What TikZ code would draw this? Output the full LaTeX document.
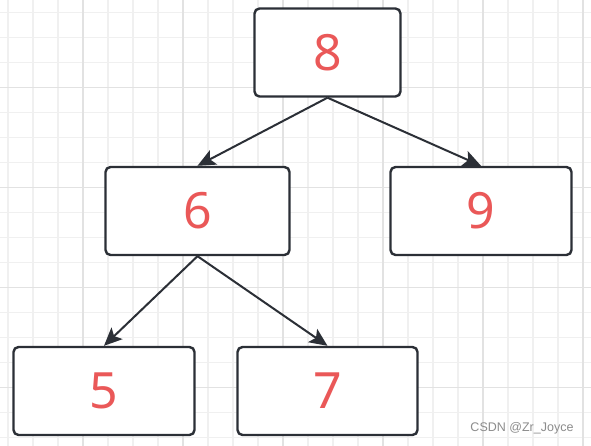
\documentclass[tikz,border=0pt]{standalone}
\usepackage{fontspec}
\setmainfont{Noto Sans}
\newfontfamily\markfont{Liberation Sans}
\usepackage{tikz}
\usetikzlibrary{arrows.meta,positioning}
\definecolor{boxline}{RGB}{43, 47, 54}
\definecolor{keyred}{RGB}{234, 88, 88}
\definecolor{gridminor}{RGB}{240, 240, 240}
\definecolor{gridmajor}{RGB}{226, 226, 226}
\definecolor{markgray}{RGB}{140, 140, 140}

\begin{document}
\begin{tikzpicture}[
    x=1pt, y=-1pt,
    treenode/.style={draw=boxline, line width=2.4pt, fill=white, rounded corners=5pt, minimum height=88pt, text=keyred, font=\fontsize{50}{60}\selectfont, align=center},
    arrow/.style={-{Stealth[length=18pt, width=16pt, inset=4pt]}, line width=2pt, boxline}
]
    \useasboundingbox (0,0) rectangle (591,446);
    \fill[white] (0,0) rectangle (591,446);

    % Grid
    \foreach \i in {0,...,23} {
        \draw[gridminor, line width=1.2pt] (8+25*\i,0) -- (8+25*\i,446);
    }
    \foreach \i in {0,...,17} {
        \draw[gridminor, line width=1.2pt] (0,12.5+25*\i) -- (591,12.5+25*\i);
    }
    \foreach \i in {3,7,11,15,19,23} {
        \draw[gridmajor, line width=1.2pt] (8+25*\i,0) -- (8+25*\i,446);
    }
    \foreach \i in {3,7,11,15} {
        \draw[gridmajor, line width=1.2pt] (0,12.5+25*\i) -- (591,12.5+25*\i);
    }

    % Nodes - root
    \node[treenode, minimum width=146pt] (eight) at (327.5,52.5) {8};

    % Nodes - middle row
    \node[treenode, minimum width=184pt] (six) at (197.5,211) {6};
    \node[treenode, minimum width=181pt] (nine) at (481,211) {9};

    % Nodes - bottom row
    \node[treenode, minimum width=181pt] (five) at (104,391) {5};
    \node[treenode, minimum width=180pt] (seven) at (327.5,391) {7};

    % Arrows
    \draw[arrow] (eight.south) -- (six.north);
    \draw[arrow] (eight.south) -- (nine.north);
    \draw[arrow] (six.south) -- (five.north);
    \draw[arrow] (six.south) -- (seven.north);

    % Watermark
    \node[font=\markfont\fontsize{12.5}{14}\selectfont, text=markgray, anchor=east] (mark) at (577,428) {CSDN @Zr\_Joyce};
\end{tikzpicture}
\end{document}
